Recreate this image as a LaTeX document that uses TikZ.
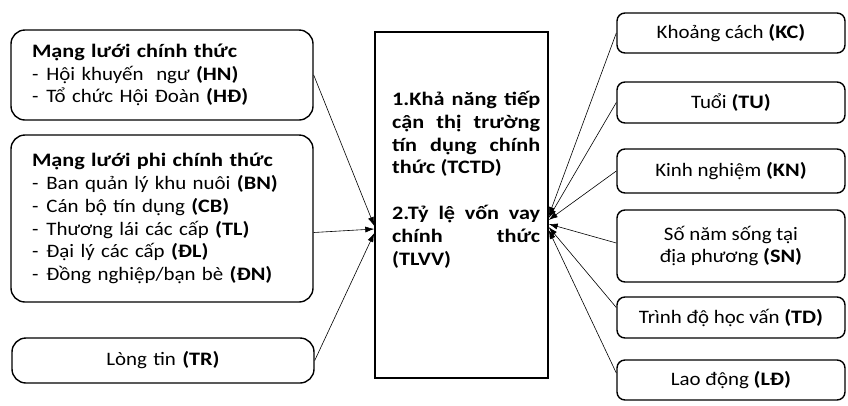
\documentclass[tikz,border=0pt]{standalone}
\usepackage{fontspec}
\setmainfont{Carlito}[FakeStretch=1.1]
\newfontfamily\bfx{Carlito}[UprightFont={* Bold}, FakeStretch=1.17]
\usetikzlibrary{arrows.meta}
\newcommand{\itm}[1]{-\hspace{8pt}#1}
\newcommand{\B}[1]{{\bfx #1}}
\tikzset{
  every node/.style={font=\fontsize{19}{22.8}\selectfont},
  lbox/.style={draw, line width=1.4pt, rounded corners=14pt, inner xsep=21pt, inner ysep=0pt, text width=260pt, align=left},
  rbox/.style={draw, line width=1.4pt, rounded corners=8pt, minimum width=228pt, inner sep=0pt, align=center},
  cbox/.style={draw, line width=1.4pt, minimum width=173pt, minimum height=346pt, inner sep=0pt},
  conn/.style={line width=0.6pt, -{Latex[length=9pt,width=6pt]}}
}
\begin{document}
\begin{tikzpicture}[x=1pt,y=-1pt]
\useasboundingbox (0,0) rectangle (848,405);
% left boxes
\node[lbox, minimum height=90pt] (b1) at (162,75) {\B{Mạng lưới chính thức}\\\itm{Hội khuyến\ \ ngư \B{(HN)}}\\\itm{Tổ chức Hội Đoàn \B{(HĐ)}}};
\node[lbox, minimum height=167pt] (b2) at (162,218.5) {\B{Mạng lưới phi chính thức}\\\itm{Ban quản lý khu nuôi \B{(BN)}}\\\itm{Cán bộ tín dụng\ \B{(CB)}}\\\itm{Thương lái các cấp \B{(TL)}}\\\itm{Đại lý các cấp \B{(ĐL)}}\\\itm{Đồng nghiệp/bạn bè \B{(ĐN)}}};
\node[lbox, minimum height=45pt, align=center] (b3) at (163,360.5) {Lòng tin \B{(TR)}};
% centre
\node[cbox] (c) at (461.5,205) {};
\node[anchor=north west, inner sep=0pt, text width=148pt, align=justify, font=\fontsize{19}{22.8}\bfx] (ct) at (392,91) {1.Khả năng tiếp\linebreak cận thị trường\linebreak tín dụng chính\linebreak thức (TCTD)\par\vspace{22.8pt}2.Tỷ lệ vốn vay\linebreak chính thức\linebreak (TLVV)};
% right boxes
\node[rbox, minimum height=40pt] (kc) at (731,33) {Khoảng cách \B{(KC)}};
\node[rbox, minimum height=41pt] (tu) at (731,102.5) {Tuổi \B{(TU)}};
\node[rbox, minimum height=44pt] (kn) at (731,171) {Kinh nghiệm \B{(KN)}};
\node[rbox, minimum height=72pt] (sn) at (731,246) {Số năm sống tại\\địa phương \B{(SN)}};
\node[rbox, minimum height=41pt] (td) at (731,317.5) {Trình độ học vấn \B{(TD)}};
\node[rbox, minimum height=40pt] (ld) at (731,380) {Lao động \B{(LĐ)}};
% connectors left
\draw[conn] (b1.east) -- ([yshift=-21pt]c.west);
\draw[conn] ([yshift=-14pt]b2.east) -- ([yshift=-24pt]c.west);
\draw[conn] (b3.east) -- ([yshift=-28pt]c.west);
% connectors right
\draw[conn] (kc.west) -- ([yshift=-11pt]c.east);
\draw[conn] (tu.west) -- ([yshift=-13pt]c.east);
\draw[conn] (kn.west) -- ([yshift=-15pt]c.east);
\draw[conn] ([yshift=3pt]sn.west) -- ([yshift=-19pt]c.east);
\draw[conn] ([yshift=10pt]td.west) -- ([yshift=-22pt]c.east);
\draw[conn] ([yshift=7pt]ld.west) -- ([yshift=-25pt]c.east);
\end{tikzpicture}
\end{document}
